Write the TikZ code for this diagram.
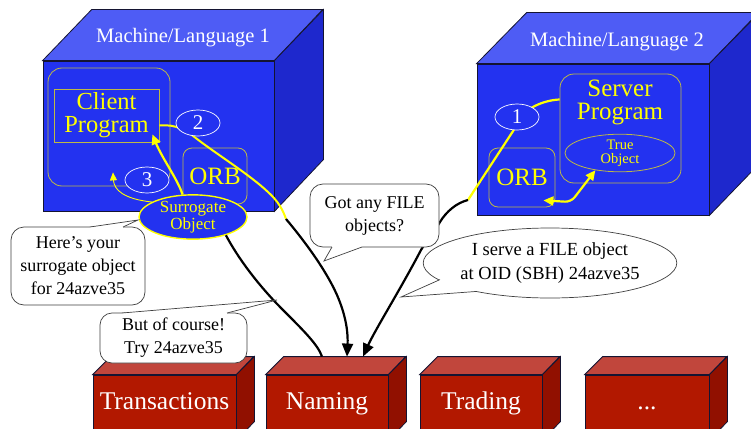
\documentclass[tikz,border=0pt]{standalone}
\usepackage{fontspec}
\setmainfont{Liberation Serif}
\usetikzlibrary{arrows.meta,shapes.geometric}
\definecolor{bfront}{RGB}{35,50,240}
\definecolor{btop}{RGB}{78,92,245}
\definecolor{bside}{RGB}{30,40,205}
\definecolor{rfront}{RGB}{178,24,0}
\definecolor{rtop}{RGB}{193,70,60}
\definecolor{rside}{RGB}{145,16,0}
\definecolor{olive}{RGB}{190,185,70}
\definecolor{ylw}{RGB}{255,255,0}
\definecolor{edgec}{RGB}{20,20,50}
\tikzset{
  face/.style={draw=edgec, line width=0.8pt},
  frontface/.style={face, rectangle, inner sep=0pt},
  inbox/.style={draw=olive, line width=0.8pt, rectangle, rounded corners=10pt, inner sep=0pt},
  numell/.style={ellipse, draw=white, fill=bfront, line width=0.7pt, minimum width=44pt, minimum height=26pt, inner sep=0pt, text=white, font=\fontsize{21}{21}\selectfont},
  ytext/.style={text=ylw, align=center},
  bubble/.style={draw=black!75, fill=white, line width=0.7pt, rectangle, rounded corners=13pt, align=center, font=\fontsize{18}{23}\selectfont, inner sep=0pt},
  bubbleline/.style={draw=black!75, line width=0.7pt},
  ypath/.style={draw=ylw, line width=2pt},
  yarrow/.style={draw=ylw, line width=2.2pt, -{Triangle[length=10pt,width=9pt]}},
  ythin/.style={draw=ylw, line width=0.9pt, -{Triangle[length=8pt,width=7pt]}},
  ydouble/.style={draw=ylw, line width=2.2pt, {Triangle[length=10pt,width=9pt]}-{Triangle[length=10pt,width=9pt]}, rounded corners=6pt},
  bline/.style={draw=black, line width=2.2pt},
  barrow/.style={draw=black, line width=2.2pt, -{Triangle[length=13pt,width=11pt]}},
  boxlabel/.style={text=white, font=\fontsize{25.5}{25}\selectfont, anchor=base},
  title/.style={text=white, font=\fontsize{20.5}{20}\selectfont, anchor=base},
}
\begin{document}
\begin{tikzpicture}[x=1pt,y=-1pt]
\useasboundingbox (0,0) rectangle (751,428);
\clip (0,0) rectangle (751,428);
\fill[white] (0,0) rectangle (751,428);

% ---------- Cube 1
\node[frontface, fill=bfront, minimum width=231pt, minimum height=150pt] (m1) at (158.5,136) {};
\filldraw[face, fill=btop] (m1.north west) -- ++(49,-51) -- ++(231,0) -- (m1.north east) -- cycle;
\filldraw[face, fill=bside] (m1.north east) -- ++(49,-51) -- ++(0,150) -- (m1.south east) -- cycle;
\node[title] (t1) at (183,42) {Machine/Language 1};

% ---------- Cube 2
\node[frontface, fill=bfront, minimum width=232pt, minimum height=151pt] (m2) at (593,139.5) {};
\filldraw[face, fill=btop] (m2.north west) -- ++(50,-51) -- ++(232,0) -- (m2.north east) -- cycle;
\filldraw[face, fill=bside] (m2.north east) -- ++(50,-51) -- ++(0,151) -- (m2.south east) -- cycle;
\node[title] (t2) at (617,47) {Machine/Language 2};

% ---------- Cube 1 contents
\node[inbox, minimum width=122pt, minimum height=118pt, rounded corners=14pt] (clientframe) at (109,127) {};
\node[draw=olive, line width=0.8pt, rectangle, inner sep=0pt, minimum width=105pt, minimum height=53pt, ytext, font=\fontsize{24.5}{23}\selectfont] (client) at (106.5,115.5) {Client\\Program};
\node[inbox, minimum width=64pt, minimum height=56pt, rounded corners=9pt, ytext, font=\fontsize{25}{25}\selectfont] (orb1) at (215,176) {ORB};

% ---------- Cube 2 contents
\node[inbox, minimum width=121pt, minimum height=109pt, rounded corners=14pt] (server) at (620.5,128.5) {};
\node[ytext, font=\fontsize{25}{23}\selectfont] (servertxt) at (620,102) {Server\\Program};
\node[ellipse, draw=olive, line width=0.8pt, minimum width=110pt, minimum height=36pt, inner sep=0pt, ytext, font=\fontsize{14.5}{14}\selectfont] (trueobj) at (620,153) {True\\Object};
\node[inbox, minimum width=66pt, minimum height=59pt, rounded corners=9pt, ytext, font=\fontsize{25}{25}\selectfont] (orb2) at (522,177.5) {ORB};

% ---------- yellow connectors (under ellipses)
\coordinate (c2) at (286,219);
\draw[ypath] ([yshift=-10pt]client.east) .. controls (176,124) and (186,130) .. (197,139)
   .. controls (218,155) and (250,175) .. (268,192) .. controls (278,201) and (283,210) .. (c2);
\coordinate (c1) at (468,200);
\draw[ypath, line width=2.2pt] ([yshift=29pt]server.west) .. controls (545,100) and (522,108) .. (517,125) -- (c1);
\draw[ydouble] ([xshift=-12pt,yshift=7pt]orb2.south east) -- (571,202) -- (trueobj.-145);

% ---------- ellipses
\node[numell] (e2) at (198,123) {2};
\node[numell] (e3) at (147,180) {3};
\node[numell] (e1) at (517,117) {1};
\node[ellipse, draw=ylw, fill=bfront, line width=1.4pt, minimum width=108pt, minimum height=40pt, inner sep=0pt, ytext, font=\fontsize{17}{15}\selectfont] (surr) at (193,217) {Surrogate\\Object};

\draw[yarrow] (surr.115) .. controls (178,180) and (162,158) .. ([xshift=-7pt,yshift=8pt]client.south east);
\draw[ythin] (surr.160) .. controls (124,199) and (114,190) .. ([xshift=4pt,yshift=14pt]clientframe.south);

% ---------- service boxes
\foreach \nm/\cx/\w in {trans/164.5/143, naming/327/122, trading/481/122, dots/647/124}{
  \node[frontface, fill=rfront, minimum width=\w pt, minimum height=65pt] (\nm) at (\cx,407.5) {};
  \filldraw[face, fill=rtop] (\nm.north west) -- ++(18,-18) -- ++(\w,0) -- (\nm.north east) -- cycle;
  \filldraw[face, fill=rside] (\nm.north east) -- ++(18,-18) -- ++(0,65) -- (\nm.south east) -- cycle;
}
\node[boxlabel] (translab) at (164.5,409) {Transactions};
\node[boxlabel] (naminglab) at (327,409) {Naming};
\node[boxlabel] (tradinglab) at (481,409) {Trading};
\node[boxlabel] (dotslab) at (647,409) {...};

\coordinate (nam0) at ([xshift=-5pt,yshift=18pt]naming.north);
\coordinate (nam1) at ([xshift=20pt,yshift=18pt]naming.north);
\coordinate (nam2) at ([xshift=36pt,yshift=18pt]naming.north);

% ---------- black connectors
\draw[barrow] (c2) .. controls (302,238) and (325,268) .. (337,295) .. controls (347,318) and (348,335) .. (nam1);
\draw[bline] (surr.-29) .. controls (238,258) and (258,285) .. (283,310) .. controls (305,332) and (318,345) .. (nam0);
\draw[barrow] (c1) .. controls (456,203) and (446,212) .. (440,222) .. controls (432,235) and (427,240) .. (421,250)
   .. controls (400,290) and (375,330) .. (nam2);

% ---------- speech bubbles
\node[bubble, minimum width=134pt, minimum height=78pt] (b1) at (78,266) {Here’s your\\surrogate object\\for 24azve35};
\fill[white] (90,227) -- (138,220) -- (123,227) -- (123,229) -- (90,229) -- cycle;
\draw[bubbleline] (90,227) -- (138,220) -- (123,227);

\node[bubble, minimum width=147pt, minimum height=50pt, rounded corners=12pt] (b2) at (173.5,338) {But of course!\\Try 24azve35};
\fill[white] (122,313) -- (277,300) -- (227,313) -- (227,315) -- (122,315) -- cycle;
\draw[bubbleline] (122,313) -- (277,300) -- (227,313);

\node[bubble, minimum width=129pt, minimum height=63pt] (b3) at (374.5,215.5) {Got any FILE\\objects?};
\fill[white] (332,247) -- (324,261) -- (362,247) -- (362,245) -- (332,245) -- cycle;
\draw[bubbleline] (332,247) -- (324,261) -- (362,247);

\node[bubble, ellipse, minimum width=250pt, minimum height=70pt, font=\fontsize{18.5}{24}\selectfont] (b4) at (550,263) {I serve a FILE object\\at OID (SBH) 24azve35};
\fill[white] (440,279.6) -- (401,297) -- (477,291.4) -- (477,289) -- (440,277.5) -- cycle;
\draw[bubbleline] (440,279.6) -- (401,297) -- (477,291.4);
\end{tikzpicture}
\end{document}
